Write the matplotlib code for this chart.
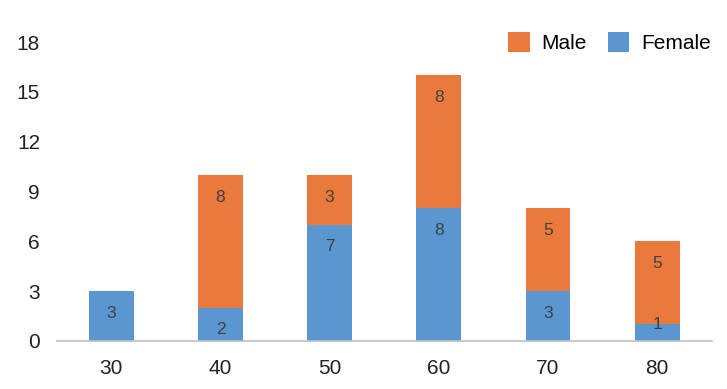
import numpy as np
import matplotlib.pyplot as plt

plt.rcParams['font.family'] = ['Liberation Sans', 'DejaVu Sans']

ages = ['30', '40', '50', '60', '70', '80']
female = np.array([3, 2, 7, 8, 3, 1])
male = np.array([0, 8, 3, 8, 5, 5])

c_male = '#E97A3C'
c_female = '#5A96D0'

fig = plt.figure(figsize=(7.27, 3.89), dpi=100)
ax = fig.add_axes([0.078, 0.1234, 0.901, 0.7686])

x = np.arange(len(ages))
w = 0.41
ax.bar(x, female, w, color=c_female, label='Female')
ax.bar(x, male, w, bottom=female, color=c_male, label='Male')

# labels sit just inside the top of each segment
def put_labels(vals, bottom):
    for xi, v, b in zip(x, vals, bottom):
        if v == 0:
            continue
        off = -16 if v >= 2 else 0
        ax.annotate(str(v), (xi, b + v), xytext=(0, off), textcoords='offset points',
                    ha='center', va='center', fontsize=12.5, color='#404040')

put_labels(female, np.zeros(len(ages)))
put_labels(male, female)

ax.set_xlim(-0.5, 5.5)
ax.set_ylim(0, 18)
ax.set_yticks(np.arange(0, 19, 3))
ax.set_xticks(x)
ax.set_xticklabels(ages)
ax.tick_params(axis='both', length=0, labelsize=15, colors='#222222')
ax.tick_params(axis='y', pad=12)
ax.tick_params(axis='x', pad=13)
for s in ['top', 'right', 'left']:
    ax.spines[s].set_visible(False)
ax.spines['bottom'].set_color('#BFBFBF')
ax.spines['bottom'].set_linewidth(1.2)

h, l = ax.get_legend_handles_labels()
ax.legend(h[::-1], l[::-1], loc='upper right', bbox_to_anchor=(1.027, 1.095), ncol=2,
          frameon=False, fontsize=15, handlelength=1.05, handleheight=1.05,
          handletextpad=0.55, columnspacing=1.0)

fig.savefig('out.png', dpi=100)
